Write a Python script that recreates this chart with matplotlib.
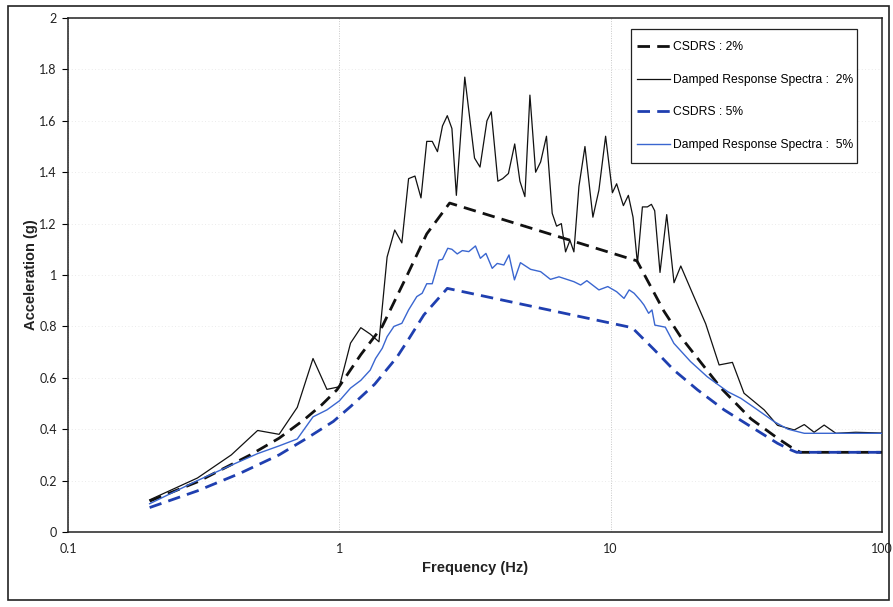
import matplotlib
matplotlib.use("Agg")
import matplotlib.pyplot as plt
from matplotlib.ticker import FixedLocator, FuncFormatter, NullLocator
from matplotlib.patches import Rectangle

# Design spectrum, 2% damping
csdrs2_freq = [0.2, 0.3, 0.47, 0.6, 0.74, 0.86, 0.98, 1.2, 1.44, 1.78, 2.1, 2.55,
               12.5, 15.7, 18.1, 25.5, 32.9, 41.2, 46.2, 50.0, 100.0]
csdrs2_acc = [0.12, 0.195, 0.30, 0.365, 0.436, 0.494, 0.553, 0.69, 0.80, 1.0, 1.16, 1.28,
              1.055, 0.86, 0.76, 0.56, 0.44, 0.365, 0.33, 0.31, 0.31]

# Computed response spectrum, 2% damping
resp2_freq = [0.2, 0.3, 0.4, 0.5, 0.6, 0.7, 0.8, 0.9, 1.0, 1.1, 1.2, 1.3, 1.4, 1.5,
              1.6, 1.7, 1.8, 1.9, 2.0, 2.1, 2.2, 2.3, 2.4, 2.5, 2.6, 2.7, 2.9, 3.15,
              3.3, 3.5, 3.63, 3.84, 4.0, 4.2, 4.43, 4.63, 4.83, 5.04, 5.29, 5.52, 5.8,
              6.09, 6.32, 6.58, 6.82, 7.08, 7.32, 7.64, 8.04, 8.6, 9.05, 9.58, 10.15,
              10.52, 11.14, 11.62, 12.09, 12.55, 13.09, 13.66, 14.13, 14.53, 15.2,
              16.09, 17.12, 18.13, 20.0, 22.4, 25.1, 28.1, 31.0, 36.8, 41.2, 47.5,
              51.7, 56.2, 61.2, 67.6, 80.0, 100.0]
resp2_acc = [0.125, 0.21, 0.30, 0.395, 0.38, 0.485, 0.675, 0.555, 0.565, 0.735, 0.795,
             0.77, 0.74, 1.07, 1.175, 1.125, 1.375, 1.385, 1.30, 1.52, 1.52, 1.48, 1.58,
             1.62, 1.57, 1.31, 1.77, 1.455, 1.42, 1.60, 1.635, 1.365, 1.375, 1.395, 1.51,
             1.365, 1.305, 1.70, 1.40, 1.44, 1.54, 1.24, 1.19, 1.20, 1.09, 1.135, 1.09,
             1.345, 1.50, 1.225, 1.33, 1.54, 1.32, 1.355, 1.27, 1.31, 1.225, 1.045,
             1.265, 1.265, 1.275, 1.25, 1.01, 1.235, 0.97, 1.035, 0.93, 0.81, 0.65,
             0.66, 0.54, 0.475, 0.415, 0.397, 0.418, 0.388, 0.416, 0.384, 0.388, 0.385]

# Design spectrum, 5% damping
csdrs5_freq = [0.2, 0.3, 0.43, 0.6, 0.76, 0.95, 1.1, 1.35, 1.63, 1.8, 2.05, 2.5,
               12.0, 14.45, 17.1, 20.9, 26.2, 32.85, 41.2, 46.2, 48.5, 100.0]
csdrs5_acc = [0.095, 0.16, 0.228, 0.30, 0.365, 0.43, 0.488, 0.575, 0.68, 0.75, 0.845, 0.948,
              0.795, 0.71, 0.63, 0.553, 0.475, 0.41, 0.345, 0.319, 0.31, 0.31]

# Computed response spectrum, 5% damping
resp5_freq = [0.2, 0.3, 0.4, 0.5, 0.6, 0.7, 0.8, 0.9, 1.0, 1.1, 1.2, 1.3, 1.36, 1.44,
              1.5, 1.59, 1.7, 1.8, 1.93, 2.02, 2.1, 2.2, 2.33, 2.4, 2.51, 2.6, 2.72,
              2.84, 3.0, 3.175, 3.31, 3.47, 3.66, 3.82, 4.04, 4.22, 4.42, 4.65, 5.07,
              5.52, 6.0, 6.45, 7.32, 7.75, 8.17, 9.05, 9.76, 10.52, 11.2, 11.7, 12.2,
              12.9, 13.27, 13.8, 14.2, 14.55, 15.9, 17.1, 19.7, 22.7, 27.0, 30.2, 34.8,
              40.1, 45.0, 51.7, 100.0]
resp5_acc = [0.11, 0.20, 0.26, 0.305, 0.335, 0.362, 0.448, 0.475, 0.51, 0.56, 0.59, 0.63,
             0.675, 0.715, 0.76, 0.80, 0.812, 0.864, 0.916, 0.929, 0.966, 0.966, 1.058,
             1.061, 1.104, 1.10, 1.082, 1.095, 1.091, 1.113, 1.065, 1.084, 1.026, 1.045,
             1.039, 1.078, 0.981, 1.048, 1.022, 1.013, 0.983, 0.993, 0.974, 0.961, 0.978,
             0.942, 0.955, 0.935, 0.909, 0.942, 0.929, 0.90, 0.883, 0.851, 0.864, 0.805,
             0.797, 0.734, 0.663, 0.604, 0.546, 0.52, 0.475, 0.429, 0.40, 0.384, 0.384]

x_ticks = [0.1, 1, 10, 100]
y_ticks = [0, 0.2, 0.4, 0.6, 0.8, 1.0, 1.2, 1.4, 1.6, 1.8, 2.0]

fig = plt.figure(figsize=(8.93, 6.07), dpi=100)
fig.patch.set_facecolor("white")
fig.add_artist(Rectangle((0.009, 0.012), 0.987, 0.978, transform=fig.transFigure,
                         fill=False, edgecolor="#222222", linewidth=1.2))

ax = fig.add_axes([0.0761, 0.1236, 0.9116, 0.8467])
ax.set_xscale("log")
ax.set_xlim(0.1, 100)
ax.set_ylim(0, 2)

ax.plot(csdrs2_freq, csdrs2_acc, color="#111111", linewidth=2.0,
        linestyle=(0, (4.5, 2.6)), label="CSDRS : 2%", zorder=3)
ax.plot(resp2_freq, resp2_acc, color="#111111", linewidth=0.9,
        label="Damped Response Spectra :  2%", zorder=4)
ax.plot(csdrs5_freq, csdrs5_acc, color="#1f3fb0", linewidth=2.0,
        linestyle=(0, (4.5, 2.6)), label="CSDRS : 5%", zorder=3)
ax.plot(resp5_freq, resp5_acc, color="#3a66d0", linewidth=1.0,
        label="Damped Response Spectra :  5%", zorder=4)

ax.xaxis.set_major_locator(FixedLocator(x_ticks))
ax.xaxis.set_minor_locator(NullLocator())
ax.xaxis.set_major_formatter(FuncFormatter(lambda v, p: "%g" % v))
ax.yaxis.set_major_locator(FixedLocator(y_ticks))
ax.yaxis.set_major_formatter(FuncFormatter(lambda v, p: "%g" % v))

for s in ax.spines.values():
    s.set_linewidth(1.1)
    s.set_color("#222222")

ax.tick_params(axis="x", length=0, pad=8, labelsize=9, labelcolor="#222222")
ax.tick_params(axis="y", length=4, width=0.8, direction="out", pad=4,
               labelsize=9, labelcolor="#222222")
for lab in ax.get_xticklabels() + ax.get_yticklabels():
    lab.set_fontfamily("Lato")

ax.xaxis.grid(True, which="major", color="#c8c8c8", linestyle=(0, (1, 1.5)), linewidth=0.7)
ax.yaxis.grid(True, which="major", color="#e4e4e4", linestyle=(0, (1, 3)), linewidth=0.6)
ax.set_axisbelow(True)

ax.set_xlabel("Frequency (Hz)", fontsize=10.5, fontweight="bold",
              fontfamily="Liberation Sans", labelpad=4, color="#222222")
ax.set_ylabel("Acceleration (g)", fontsize=10.5, fontweight="bold",
              fontfamily="Liberation Sans", labelpad=1, color="#222222")

# Legend entries without their own frame; a plain box is drawn around them
leg = ax.legend(loc="center", bbox_to_anchor=(0.8317, 0.848),
                prop={"family": "Liberation Sans", "size": 8.7},
                frameon=False, handlelength=2.8, handletextpad=0.25,
                labelspacing=1.71, borderpad=0.0, borderaxespad=0.0)
ax.add_patch(Rectangle((0.6916, 0.7179), 0.2776, 0.2607, transform=ax.transAxes,
                       fill=True, facecolor="white", edgecolor="#222222",
                       linewidth=0.9, zorder=5))
leg.set_zorder(6)

fig.savefig("out.png", dpi=100, facecolor="white")
